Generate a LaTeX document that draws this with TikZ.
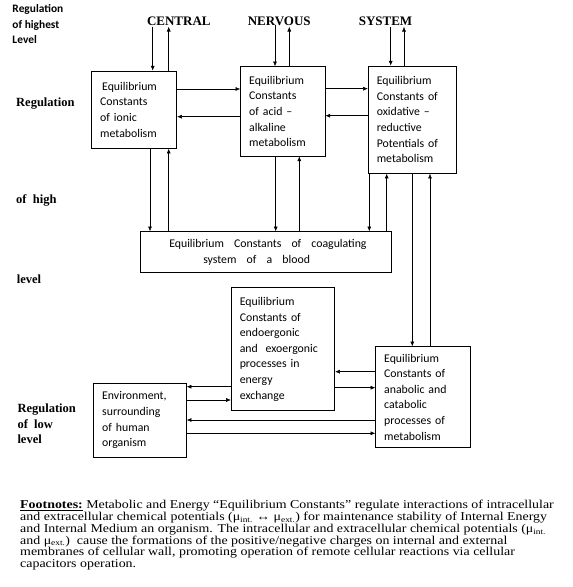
\documentclass[tikz,border=0pt]{standalone}
\usepackage{fontspec}
\setmainfont{Liberation Serif}
\newfontfamily\carlito{Carlito}
\newfontfamily\fnfont[FakeStretch=1.16]{Liberation Serif}
\usetikzlibrary{arrows.meta}
\begin{document}
\begin{tikzpicture}[x=1pt,y=-1pt,
 box/.style={draw, line width=0.7pt, inner xsep=8.5pt, inner ysep=0pt, align=left, font=\carlito\fontsize{11.8}{15.6}\selectfont},
 arr/.style={line width=0.55pt, -{Latex[length=4.8pt,width=4pt]}},
 head/.style={font=\bfseries\fontsize{13}{15}\selectfont, inner sep=0pt},
 side/.style={font=\bfseries\fontsize{12.5}{15.5}\selectfont, align=left, anchor=west, inner sep=0pt}]
\useasboundingbox (0,0) rectangle (573,587);
\fill[white] (0,0) rectangle (573,587);

% boxes
\node[box, text width=68pt, minimum height=77.3pt] (b1) at (134.2,109.65) {\,Equilibrium\\Constants\\of ionic\\metabolism};
\node[box, text width=67.3pt, minimum height=89.3pt] (b2) at (282.85,111.35) {Equilibrium\\Constants\\of acid –\\alkaline\\metabolism};
\node[box, text width=71.4pt, minimum height=107.3pt] (b3) at (412.5,119.65) {Equilibrium\\Constants of\\oxidative –\\reductive\\Potentials of\\metabolism};
\node[box, inner xsep=0pt, text width=251.7pt, minimum height=40.6pt, font=\carlito\fontsize{11.8}{16}\selectfont] (coag) at (265.85,252) {\hspace*{29.3pt}\makebox[197.3pt]{Equilibrium\hfill Constants\hfill of\hfill coagulating}\\\hspace*{63.3pt}\makebox[106.7pt]{system\hfill of\hfill a\hfill blood}};
\node[box, text width=86.4pt, minimum height=123pt] (en) at (283,349.2) {Equilibrium\\Constants of\\endoergonic\\and\ \ exoergonic\\processes in\\energy\\exchange};
\node[box, text width=77.3pt, minimum height=100.6pt] (an) at (422.85,397) {Equilibrium\\Constants of\\anabolic and\\catabolic\\processes of\\metabolism};
\node[box, text width=75.6pt, minimum height=74pt] (env) at (140,420.3) {Environment,\\surrounding\\of human\\organism};

% headings
\node[head] (tc) at (178.8,21.7) {CENTRAL};
\node[head] (tn) at (279.2,21.7) {NERVOUS};
\node[head] (ts) at (385.5,21) {SYSTEM};

% side labels
\node[font=\carlito\bfseries\fontsize{11.4}{15.5}\selectfont, align=left, anchor=west, inner sep=0pt] (lh) at (12.3,24.3) {Regulation\\of highest\\Level};
\node[side] (l1) at (16,103.3) {Regulation};
\node[side] (l2) at (16,200) {of\ \ high};
\node[side] (l3) at (16.7,279.3) {level};
\node[side] (l4) at (17.3,424) {Regulation\\of\ \ low\\level};

% footnote
\node[align=left, anchor=west, inner sep=0pt, font={\fnfont\fontsize{12}{11.8}\selectfont\lineskiplimit=-100pt}] (fn) at (20,535.3) {\underline{\textbf{Footnotes:}} Metabolic and Energy “Equilibrium Constants” regulate interactions of intracellular\\and extracellular chemical potentials (μ\textsubscript{int.} ↔ μ\textsubscript{ext.}) for maintenance stability of Internal Energy\\and Internal Medium an organism. The intracellular and extracellular chemical potentials (μ\textsubscript{int.}\\and μ\textsubscript{ext.})\ \ cause the formations of the positive/negative charges on internal and external\\membranes of cellular wall, promoting operation of remote cellular reactions via cellular\\capacitors operation.};

% helper coordinates
\coordinate (cA) at (152.7,26.7);
\coordinate (cB) at (168.7,26.7);
\coordinate (nA) at (275,25);
\coordinate (nB) at (289.3,26.7);
\coordinate (sA) at (390.7,26.7);
\coordinate (sB) at (404,26.7);
\coordinate (h1) at (0,89);
\coordinate (h2) at (0,116.7);
\coordinate (h3) at (0,88.7);
\coordinate (h4) at (0,115.7);
\coordinate (v1) at (150,0);
\coordinate (v2) at (168.7,0);
\coordinate (v3) at (275.7,0);
\coordinate (v4) at (299.3,0);
\coordinate (v5) at (369.3,0);
\coordinate (v6) at (386.7,0);
\coordinate (v7) at (412.3,0);
\coordinate (v8) at (430,0);
\coordinate (g1) at (0,371.7);
\coordinate (g2) at (0,387.7);
\coordinate (g3) at (0,386.7);
\coordinate (g4) at (0,400);
\coordinate (g5) at (0,420);
\coordinate (g6) at (0,433.3);

% CNS arrows
\draw[arr] (cA) -- (cA |- b1.north);
\draw[arr] (b1.north -| cB) -- (cB);
\draw[arr] (nA) -- (nA |- b2.north);
\draw[arr] (b2.north -| nB) -- (nB);
\draw[arr] (sA) -- (sA |- b3.north);
\draw[arr] (b3.north -| sB) -- (sB);

% top row horizontal
\draw[arr] (b1.east |- h1) -- (b2.west |- h1);
\draw[arr] (b2.west |- h2) -- (b1.east |- h2);
\draw[arr] (b2.east |- h3) -- (b3.west |- h3);
\draw[arr] (b3.west |- h4) -- (b2.east |- h4);

% verticals
\draw[arr] (b1.south -| v1) -- (coag.north -| v1);
\draw[arr] (coag.north -| v2) -- (b1.south -| v2);
\draw[arr] (b2.south -| v3) -- (coag.north -| v3);
\draw[arr] (coag.north -| v4) -- (b2.south -| v4);
\draw[arr] (b3.south -| v5) -- (coag.north -| v5);
\draw[arr] (coag.north -| v6) -- (b3.south -| v6);
\draw[arr] (b3.south -| v7) -- (an.north -| v7);
\draw[arr] (an.north -| v8) -- (b3.south -| v8);

% lower horizontals
\draw[arr] (an.west |- g1) -- (en.east |- g1);
\draw[arr] (en.east |- g2) -- (an.west |- g2);
\draw[arr] (en.west |- g3) -- (env.east |- g3);
\draw[arr] (env.east |- g4) -- (en.west |- g4);
\draw[arr] (an.west |- g5) -- (env.east |- g5);
\draw[arr] (env.east |- g6) -- (an.west |- g6);
\end{tikzpicture}
\end{document}
